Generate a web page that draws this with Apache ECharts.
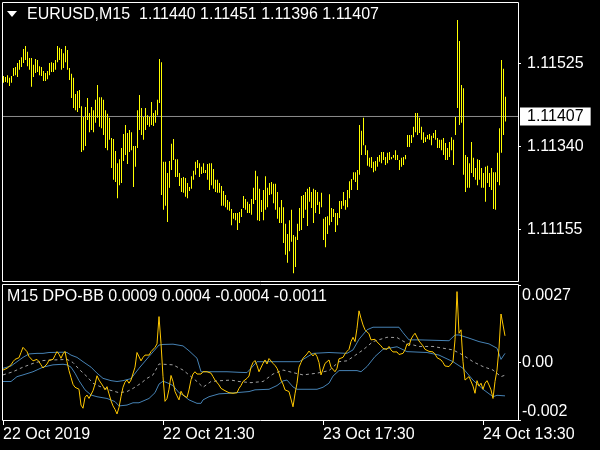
<!DOCTYPE html>
<html>
<head>
<meta charset="utf-8">
<script src="https://cdn.jsdelivr.net/npm/echarts/dist/echarts.min.js"></script>
<style>
html,body{margin:0;padding:0;background:#000;}
#c{width:600px;height:450px;}
</style>
</head>
<body>
<div id="c"></div>
<script>
// ---------- DATA ----------
const symbolTitle = 'EURUSD,M15';
const ohlcTitle = ['1.11440', '1.11451', '1.11396', '1.11407'];
const lastClose = 1.11407;
const indicatorTitle = 'M15 DPO-BB';
const indicatorTitleVals = ['0.0009', '0.0004', '-0.0004', '-0.0011'];

const timeTickIdx = [0, 80, 160, 240];
const timeTickLabels = ['22 Oct 2019', '22 Oct 21:30', '23 Oct 17:30', '24 Oct 13:30'];

const priceTickValues = [1.11155, 1.11340, 1.11525];
const priceTickLabels = ['1.11155', '1.11340', '1.11525'];
const dpoTickValues = [0.0027, 0, -0.002];
const dpoTickLabels = ['0.0027', '0.00', '-0.002'];

const highs = [
1.11497,1.11495,1.11499,1.11493,1.11497,1.11515,1.11517,1.11526,1.11533,1.11539,
1.11557,1.11564,1.11551,1.11537,1.11537,1.11522,1.11535,1.11533,1.11519,1.11517,
1.11508,1.11504,1.11508,1.11526,1.11528,1.11526,1.11533,1.11564,1.11560,1.11557,
1.11548,1.11564,1.11555,1.11515,1.11502,1.11493,1.11457,1.11464,1.11466,1.11430,
1.11406,1.11428,1.11448,1.11415,1.11428,1.11421,1.11444,1.11477,1.11450,1.11450,
1.11444,1.11421,1.11413,1.11404,1.11359,1.11357,1.11330,1.11303,1.11312,1.11337,
1.11368,1.11388,1.11370,1.11377,1.11372,1.11341,1.11341,1.11421,1.11455,1.11426,
1.11406,1.11426,1.11410,1.11406,1.11439,1.11415,1.11421,1.11444,1.11535,1.11528,
1.11306,1.11306,1.11281,1.11308,1.11346,1.11357,1.11312,1.11312,1.11281,1.11270,
1.11272,1.11270,1.11259,1.11250,1.11274,1.11286,1.11306,1.11310,1.11303,1.11295,
1.11303,1.11288,1.11301,1.11303,1.11303,1.11290,1.11266,1.11266,1.11259,1.11252,
1.11241,1.11232,1.11221,1.11217,1.11201,1.11192,1.11192,1.11192,1.11194,1.11201,
1.11230,1.11223,1.11217,1.11212,1.11223,1.11248,1.11286,1.11274,1.11246,1.11221,
1.11243,1.11274,1.11248,1.11259,1.11261,1.11257,1.11257,1.11239,1.11205,1.11221,
1.11205,1.11168,1.11145,1.11176,1.11199,1.11143,1.11139,1.11168,1.11203,1.11230,
1.11232,1.11239,1.11246,1.11250,1.11239,1.11246,1.11243,1.11239,1.11217,1.11237,
1.11179,1.11183,1.11185,1.11234,1.11203,1.11201,1.11192,1.11192,1.11219,1.11219,
1.11239,1.11221,1.11243,1.11263,1.11268,1.11283,1.11283,1.11288,1.11388,1.11375,
1.11404,1.11343,1.11332,1.11315,1.11317,1.11306,1.11308,1.11317,1.11321,1.11328,
1.11328,1.11317,1.11326,1.11328,1.11317,1.11321,1.11332,1.11321,1.11310,1.11315,
1.11317,1.11321,1.11366,1.11366,1.11366,1.11384,1.11415,1.11415,1.11404,1.11384,
1.11372,1.11361,1.11366,1.11368,1.11364,1.11370,1.11377,1.11359,1.11355,1.11355,
1.11359,1.11348,1.11337,1.11350,1.11361,1.11355,1.11406,1.11622,1.11575,1.11477,
1.11470,1.11321,1.11317,1.11303,1.11350,1.11315,1.11292,1.11312,1.11310,1.11292,
1.11281,1.11295,1.11297,1.11281,1.11292,1.11283,1.11283,1.11326,1.11381,1.11533,
1.11513,1.11451];

const lows = [
1.11482,1.11484,1.11482,1.11475,1.11482,1.11497,1.11499,1.11495,1.11511,1.11517,
1.11526,1.11533,1.11519,1.11511,1.11473,1.11495,1.11504,1.11506,1.11499,1.11497,
1.11486,1.11486,1.11490,1.11499,1.11506,1.11506,1.11511,1.11528,1.11533,1.11511,
1.11515,1.11528,1.11511,1.11488,1.11448,1.11426,1.11421,1.11417,1.11426,1.11328,
1.11332,1.11341,1.11399,1.11372,1.11377,1.11372,1.11393,1.11404,1.11384,1.11381,
1.11366,1.11337,1.11332,1.11355,1.11292,1.11266,1.11261,1.11225,1.11254,1.11259,
1.11308,1.11321,1.11301,1.11328,1.11332,1.11250,1.11295,1.11337,1.11377,1.11366,
1.11355,1.11377,1.11388,1.11384,1.11388,1.11386,1.11393,1.11410,1.11437,1.11232,
1.11199,1.11208,1.11172,1.11248,1.11288,1.11310,1.11272,1.11272,1.11252,1.11239,
1.11237,1.11228,1.11225,1.11241,1.11246,1.11266,1.11277,1.11292,1.11272,1.11279,
1.11281,1.11281,1.11266,1.11243,1.11254,1.11246,1.11239,1.11237,1.11237,1.11208,
1.11208,1.11205,1.11199,1.11197,1.11165,1.11179,1.11176,1.11154,1.11170,1.11183,
1.11203,1.11199,1.11192,1.11192,1.11188,1.11212,1.11221,1.11176,1.11174,1.11194,
1.11176,1.11199,1.11205,1.11232,1.11234,1.11214,1.11199,1.11179,1.11170,1.11170,
1.11125,1.11099,1.11081,1.11107,1.11128,1.11058,1.11072,1.11132,1.11152,1.11154,
1.11181,1.11199,1.11163,1.11217,1.11203,1.11170,1.11192,1.11210,1.11190,1.11205,
1.11132,1.11116,1.11145,1.11165,1.11172,1.11183,1.11150,1.11165,1.11181,1.11201,
1.11208,1.11199,1.11205,1.11225,1.11243,1.11266,1.11261,1.11243,1.11277,1.11321,
1.11343,1.11321,1.11297,1.11295,1.11292,1.11283,1.11286,1.11295,1.11306,1.11303,
1.11310,1.11299,1.11303,1.11310,1.11312,1.11315,1.11310,1.11310,1.11288,1.11295,
1.11299,1.11312,1.11339,1.11339,1.11348,1.11361,1.11372,1.11366,1.11370,1.11355,
1.11348,1.11350,1.11357,1.11355,1.11343,1.11359,1.11355,1.11337,1.11337,1.11332,
1.11321,1.11310,1.11310,1.11317,1.11332,1.11299,1.11366,1.11426,1.11388,1.11393,
1.11277,1.11239,1.11248,1.11248,1.11281,1.11272,1.11266,1.11254,1.11266,1.11248,
1.11248,1.11217,1.11259,1.11250,1.11243,1.11201,1.11199,1.11261,1.11254,1.11326,
1.11366,1.11396];

const dpo = [
-0.00026,-0.00023,-0.00020,-0.00018,-0.00008,0.00003,0.00011,0.00007,0.00017,0.00035,
0.00053,0.00050,0.00038,0.00021,0.00015,0.00006,0.00009,0.00011,0.00003,-0.00008,
-0.00019,-0.00018,-0.00005,0.00008,0.00007,0.00011,0.00025,0.00038,0.00029,0.00015,
0.00030,0.00039,0.00003,-0.00028,-0.00052,-0.00076,-0.00086,-0.00082,-0.00093,-0.00148,
-0.00159,-0.00121,-0.00113,-0.00125,-0.00119,-0.00098,-0.00075,-0.00046,-0.00061,-0.00055,
-0.00082,-0.00095,-0.00084,-0.00109,-0.00133,-0.00151,-0.00163,-0.00179,-0.00156,-0.00119,
-0.00086,-0.00068,-0.00061,-0.00072,-0.00061,-0.00056,-0.00016,0.00035,0.00030,0.00006,
0.00018,0.00026,0.00032,0.00026,0.00038,0.00044,0.00053,0.00065,0.00160,0.00067,
-0.00049,-0.00135,-0.00125,-0.00093,-0.00045,-0.00066,-0.00101,-0.00116,-0.00130,-0.00100,
-0.00113,-0.00119,-0.00122,-0.00095,-0.00060,-0.00040,-0.00032,-0.00040,-0.00035,-0.00040,
-0.00032,-0.00037,-0.00032,-0.00030,-0.00037,-0.00049,-0.00061,-0.00065,-0.00078,-0.00090,
-0.00090,-0.00098,-0.00103,-0.00105,-0.00107,-0.00107,-0.00107,-0.00105,-0.00090,-0.00080,
-0.00066,-0.00061,-0.00055,-0.00047,-0.00016,0.00000,0.00007,-0.00010,-0.00032,-0.00032,
-0.00003,0.00009,-0.00005,0.00014,0.00015,-0.00003,-0.00010,-0.00020,-0.00037,-0.00061,
-0.00075,-0.00095,-0.00100,-0.00101,-0.00095,-0.00154,-0.00109,-0.00072,-0.00016,0.00000,
0.00015,0.00009,0.00030,0.00040,0.00044,0.00023,0.00032,0.00021,0.00000,-0.00043,
-0.00047,-0.00003,-0.00008,0.00009,-0.00016,-0.00016,-0.00032,-0.00020,0.00013,0.00013,
0.00018,0.00030,0.00039,0.00046,0.00073,0.00088,0.00073,0.00119,0.00180,0.00154,
0.00131,0.00114,0.00108,0.00100,0.00079,0.00074,0.00081,0.00072,0.00067,0.00058,
0.00049,0.00050,0.00046,0.00056,0.00044,0.00037,0.00038,0.00037,0.00028,0.00023,
0.00032,0.00044,0.00065,0.00058,0.00081,0.00093,0.00102,0.00096,0.00075,0.00081,
0.00058,0.00046,0.00044,0.00039,0.00044,0.00037,0.00030,0.00017,0.00023,0.00009,
0.00000,-0.00012,-0.00014,-0.00014,-0.00012,0.00003,0.00079,0.00247,0.00102,0.00114,
0.00003,-0.00061,-0.00061,-0.00049,-0.00043,-0.00082,-0.00107,-0.00063,-0.00082,-0.00072,
-0.00093,-0.00072,-0.00063,-0.00078,-0.00095,-0.00125,-0.00066,-0.00026,0.00050,0.00169,
0.00131,0.00093];

const upperIdx = [0,4,7,10,13,17,20,23,30,32,34,37,40,44,47,50,54,57,60,64,68,73,78,80,85,90,93,97,99,105,112,118,122,124,127,135,148,151,155,163,172,175,178,182,185,198,200,203,208,223,226,228,233,238,243,247,249,251];
const upperVal = [-0.00020,-0.00012,0.00003,0.00018,0.00030,0.00032,0.00032,0.00035,0.00036,0.00035,0.00026,0.00018,0.00003,-0.00016,-0.00037,-0.00055,-0.00063,-0.00066,-0.00063,-0.00056,-0.00020,0.00021,0.00061,0.00063,0.00064,0.00058,0.00041,0.00015,-0.00032,-0.00032,-0.00032,-0.00034,-0.00035,-0.00020,0.00003,0.00003,0.00003,0.00015,0.00032,0.00035,0.00032,0.00044,0.00081,0.00114,0.00123,0.00123,0.00104,0.00079,0.00079,0.00076,0.00096,0.00096,0.00085,0.00073,0.00065,0.00050,0.00011,0.00032];

const lowerIdx = [0,4,7,10,15,20,25,30,32,34,36,38,41,44,47,52,56,58,62,65,68,73,76,78,80,82,85,88,90,93,97,99,100,103,108,113,118,123,126,133,137,140,142,145,147,157,160,163,165,168,177,179,182,186,190,197,202,212,218,225,230,235,240,245,247,251];
const lowerVal = [-0.00066,-0.00066,-0.00049,-0.00043,-0.00032,-0.00016,-0.00008,-0.00006,-0.00008,-0.00016,-0.00037,-0.00063,-0.00095,-0.00113,-0.00119,-0.00125,-0.00136,-0.00151,-0.00148,-0.00140,-0.00140,-0.00125,-0.00105,-0.00075,-0.00065,-0.00070,-0.00080,-0.00105,-0.00113,-0.00130,-0.00142,-0.00142,-0.00130,-0.00119,-0.00109,-0.00107,-0.00104,-0.00101,-0.00095,-0.00093,-0.00080,-0.00064,-0.00061,-0.00085,-0.00093,-0.00093,-0.00086,-0.00072,-0.00047,-0.00028,-0.00028,-0.00032,-0.00014,0.00021,0.00046,0.00055,0.00038,0.00035,0.00026,0.00003,-0.00020,-0.00061,-0.00093,-0.00119,-0.00114,-0.00116];

const midIdx = [0,5,10,15,20,25,32,35,38,42,45,48,53,58,62,65,69,72,75,78,85,90,97,100,104,109,114,118,124,130,135,140,145,150,157,163,168,172,175,180,185,192,197,202,208,215,220,225,230,235,240,245,249,251];
const midVal = [-0.00043,-0.00032,-0.00016,-0.00003,0.00007,0.00009,0.00011,0.00000,-0.00023,-0.00049,-0.00072,-0.00082,-0.00095,-0.00105,-0.00101,-0.00090,-0.00072,-0.00055,-0.00043,-0.00005,-0.00008,-0.00026,-0.00066,-0.00086,-0.00066,-0.00063,-0.00061,-0.00066,-0.00070,-0.00066,-0.00040,-0.00026,-0.00035,-0.00043,-0.00037,-0.00028,0.00003,0.00006,0.00020,0.00044,0.00073,0.00088,0.00087,0.00067,0.00056,0.00056,0.00050,0.00044,0.00026,0.00003,-0.00014,-0.00026,-0.00049,-0.00044];

// ---------- CHART ----------
const FONT = "'Liberation Sans', Arial, sans-serif";
const slots = 258;
const barData = highs.map((h, i) => [i, h, lows[i]]);
const dpoData = dpo.map((v, i) => [i, v]);
const pair = (idx, vals) => idx.map((x, k) => [x, vals[k]]);
const priceLineData = [[-0.5, lastClose], [slots - 0.5, lastClose]];

const chart = echarts.init(document.getElementById('c'), null, {renderer: 'canvas'});
const hiddenLine = {show: false, onZero: false};

chart.setOption({
  backgroundColor: '#000',
  animation: false,
  grid: [
    {left: 2, top: 3, width: 516, height: 278},
    {left: 2, top: 285, width: 516, height: 135}
  ],
  xAxis: [
    {gridIndex: 0, type: 'value', min: -0.5, max: slots - 0.5, splitLine: {show: false}, axisLine: hiddenLine,
      axisTick: {show: false}, axisLabel: {show: false}},
    {gridIndex: 1, type: 'value', min: -0.5, max: slots - 0.5, position: 'bottom', splitLine: {show: false}, axisLine: hiddenLine,
      axisTick: {show: true, inside: false, length: 5, lineStyle: {color: '#fff'}, customValues: timeTickIdx},
      axisLabel: {show: true, customValues: timeTickIdx, align: 'left', margin: 7, color: '#fff',
        fontSize: 16, fontFamily: FONT,
        formatter: (v) => timeTickLabels[timeTickIdx.indexOf(v)]}
    }
  ],
  yAxis: [
    {gridIndex: 0, type: 'value', position: 'right', min: 1.110406, max: 1.116597,
      splitLine: {show: false}, axisLine: hiddenLine,
      axisTick: {show: true, inside: false, length: 3, lineStyle: {color: '#fff'}, customValues: priceTickValues},
      axisLabel: {customValues: priceTickValues, margin: 9, color: '#fff', fontSize: 16, fontFamily: FONT,
        formatter: (v) => { const k = priceTickValues.indexOf(v); return k >= 0 ? priceTickLabels[k] : v.toFixed(5); }}
    },
    {gridIndex: 1, type: 'value', position: 'right', min: -0.002, max: 0.0027,
      splitLine: {show: false}, axisLine: hiddenLine,
      axisTick: {show: true, inside: false, length: 3, lineStyle: {color: '#fff'}, customValues: dpoTickValues},
      axisLabel: {customValues: dpoTickValues, margin: 4, color: '#fff', fontSize: 16, fontFamily: FONT,
        formatter: (v) => {
          const k = dpoTickValues.indexOf(v);
          const s = k >= 0 ? dpoTickLabels[k] : String(v);
          if (k === 0) return '{t|' + s + '}';
          if (k === dpoTickValues.length - 1) return '{b|' + s + '}';
          return '{m|' + s + '}';
        },
        rich: {
          t: {padding: [21, 0, 0, 0], color: '#fff', fontSize: 16, fontFamily: FONT},
          m: {color: '#fff', fontSize: 16, fontFamily: FONT},
          b: {padding: [0, 0, 16, 0], color: '#fff', fontSize: 16, fontFamily: FONT}
        }
      }
    }
  ],
  graphic: [
    {type: 'polygon', shape: {points: [[7, 11], [17, 11], [12, 17]]}, style: {fill: '#fff'}, z: 100},
    {type: 'text', x: 27, y: 15, z: 100, style: {
      text: symbolTitle + '  ' + ohlcTitle.join(' '), fill: '#fff', font: '16px ' + FONT, textVerticalAlign: 'middle'}},
    {type: 'text', x: 7, y: 297, z: 100, style: {
      text: indicatorTitle + ' ' + indicatorTitleVals.join(' '), fill: '#fff', font: '16px ' + FONT, textVerticalAlign: 'middle'}},
    {type: 'rect', z: 100, shape: {x: 2.5, y: 2.5, width: 516, height: 279}, style: {fill: null, stroke: '#fff', lineWidth: 1}},
    {type: 'rect', z: 100, shape: {x: 2.5, y: 284.5, width: 516, height: 136}, style: {fill: null, stroke: '#fff', lineWidth: 1}}
  ],
  series: [
    {
      type: 'line', xAxisIndex: 0, yAxisIndex: 0, data: priceLineData, silent: true, symbol: 'none',
      lineStyle: {color: '#8c8c8c', width: 1}, z: 1,
      endLabel: {show: true, formatter: ohlcTitle[3], distance: 2,
        color: '#000', backgroundColor: '#fff', padding: [1, 7, 1, 7], fontSize: 16, fontFamily: FONT}
    },
    {
      type: 'custom', xAxisIndex: 0, yAxisIndex: 0, data: barData, z: 2,
      encode: {x: 0, y: [1, 2]},
      renderItem: (params, api) => {
        const top = api.coord([api.value(0), api.value(1)]);
        const bot = api.coord([api.value(0), api.value(2)]);
        return {type: 'rect', shape: {x: Math.round(top[0] - 0.5), y: top[1], width: 1,
          height: Math.max(1, bot[1] - top[1])}, style: {fill: '#ffff00'}};
      }
    },
    {type: 'line', xAxisIndex: 1, yAxisIndex: 1, data: pair(midIdx, midVal), symbol: 'none',
      lineStyle: {color: '#a0a0a0', width: 1, type: [3, 3]}},
    {type: 'line', xAxisIndex: 1, yAxisIndex: 1, data: pair(upperIdx, upperVal), symbol: 'none',
      lineStyle: {color: '#4682b4', width: 1}},
    {type: 'line', xAxisIndex: 1, yAxisIndex: 1, data: pair(lowerIdx, lowerVal), symbol: 'none',
      lineStyle: {color: '#4682b4', width: 1}},
    {type: 'line', xAxisIndex: 1, yAxisIndex: 1, data: dpoData, symbol: 'none',
      lineStyle: {color: '#ffc800', width: 1}}
  ]
});
</script>
</body>
</html>
